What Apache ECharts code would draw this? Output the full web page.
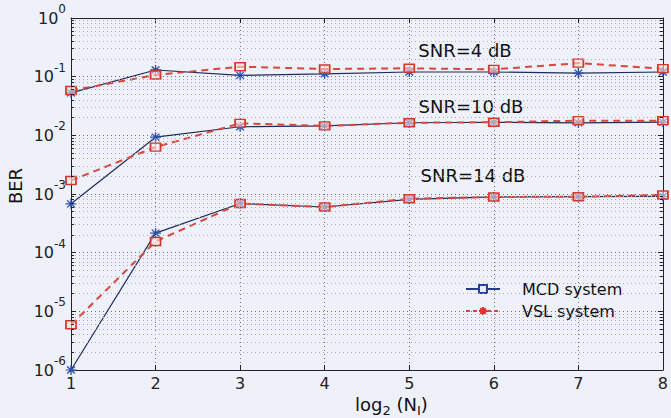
<!DOCTYPE html>
<html>
<head>
<meta charset="utf-8">
<script src="https://cdn.jsdelivr.net/npm/echarts@6/dist/echarts.min.js"></script>
<style>
  html, body { margin: 0; padding: 0; background: #eef0fa; }
  #chart { width: 671px; height: 418px; }
</style>
</head>
<body>
<div id="chart"></div>
<script>
// Number of interleaver bits, log2(N_I)
const log2Ni = [1, 2, 3, 4, 5, 6, 7, 8];

// BER of the MCD system at each SNR
const mcdSnr4  = [0.053, 0.13, 0.105, 0.112, 0.12, 0.12, 0.115, 0.12];
const mcdSnr10 = [6.8e-4, 9.3e-3, 0.014, 0.0145, 0.0164, 0.0167, 0.0163, 0.0168];
const mcdSnr14 = [1e-6, 2.15e-4, 6.9e-4, 6.0e-4, 8.1e-4, 8.9e-4, 9.0e-4, 9.1e-4];

// BER of the VSL system at each SNR
const vslSnr4  = [0.058, 0.107, 0.148, 0.135, 0.139, 0.133, 0.17, 0.137];
const vslSnr10 = [1.7e-3, 6.3e-3, 0.016, 0.0145, 0.0164, 0.0167, 0.0178, 0.0178];
const vslSnr14 = [5.9e-6, 1.55e-4, 6.9e-4, 6.0e-4, 8.3e-4, 8.9e-4, 9.0e-4, 9.6e-4];

// Decade exponents of the BER axis
const berDecades = [-6, -5, -4, -3, -2, -1, 0];
const minorSteps = [2, 3, 4, 5, 6, 7, 8, 9];

const snrLabels = ['SNR=4 dB', 'SNR=10 dB', 'SNR=14 dB'];
const legendNames = ['MCD system', 'VSL system'];

const FONT = 'DejaVu Sans';
const ASTERISK = 'path://M0,5L10,5M5,0L5,10M1.5,1.5L8.5,8.5M8.5,1.5L1.5,8.5';

const MCD_LINE = '#1f2b5a';
const MCD_MARK = '#2d4db0';
const VSL_LINE = '#d9463c';
const VSL_MARK = '#d3382b';

const pairs = (ys) => log2Ni.map((x, i) => [x, ys[i]]);

// Minor (2..9 per decade) grid lines and inside tick marks of the log axis
const xMin = log2Ni[0], xMax = log2Ni[log2Ni.length - 1];
const minorGrid = [], minorTicks = [];
for (let d = 0; d < berDecades.length - 1; d++) {
  for (const k of minorSteps) {
    const v = k * Math.pow(10, berDecades[d]);
    minorGrid.push([{ coord: [xMin, v] }, { coord: [xMax, v] }]);
    minorTicks.push([{ coord: [xMin, v] }, { coord: [xMin + 0.035, v] }]);
    minorTicks.push([{ coord: [xMax - 0.035, v] }, { coord: [xMax, v] }]);
  }
}

function mcdSeries(ys) {
  return {
    type: 'line', name: legendNames[0], data: pairs(ys), z: 3, clip: false,
    symbol: ASTERISK, symbolSize: [11, 10],
    lineStyle: { color: MCD_LINE, width: 1.2 },
    itemStyle: { color: 'transparent', borderColor: MCD_MARK, borderWidth: 1.3 }
  };
}
function vslSeries(ys) {
  return {
    type: 'line', name: legendNames[1], data: pairs(ys), z: 4, clip: false,
    symbol: 'rect', symbolSize: [10, 8],
    lineStyle: { color: VSL_LINE, width: 2, type: [7, 5] },
    itemStyle: { color: 'rgba(255,228,222,0.55)', borderColor: VSL_MARK, borderWidth: 1.6 }
  };
}

const supLabel = (v) => {
  const e = Math.round(Math.log10(v));
  return '{b|10}{s|' + (e < 0 ? '-' + (-e) : e) + '}';
};

const axisLineStyle = { color: '#222', width: 1 };

const option = {
  backgroundColor: '#eef0fa',
  animation: false,
  textStyle: { fontFamily: FONT },
  grid: { left: 71, right: 1, top: 18, bottom: 48 },
  legend: {
    data: legendNames,
    orient: 'vertical',
    left: 465, top: 280,
    itemWidth: 34, itemHeight: 10, itemGap: 4,
    padding: 0,
    textStyle: { fontFamily: FONT, fontSize: 16, color: '#111', lineHeight: 18, padding: [0, 0, 0, 17] }
  },
  xAxis: [
    {
      type: 'value', min: 1, max: 8, interval: 1, position: 'bottom',
      axisLine: { show: true, onZero: false, lineStyle: axisLineStyle },
      axisTick: { inside: true, length: 5, lineStyle: axisLineStyle },
      axisLabel: { fontFamily: FONT, fontSize: 16, color: '#222', margin: 5 },
      splitLine: { show: true, lineStyle: { color: '#6f7282', type: [1, 3] } }
    },
    {
      type: 'value', min: 1, max: 8, interval: 1, position: 'top',
      axisLine: { show: true, onZero: false, lineStyle: axisLineStyle },
      axisTick: { inside: true, length: 5, lineStyle: axisLineStyle },
      axisLabel: { show: false },
      splitLine: { show: false }
    }
  ],
  yAxis: [
    {
      type: 'log', logBase: 10, min: 1e-6, max: 1, splitNumber: 6, position: 'left',
      axisLine: { show: true, onZero: false, lineStyle: axisLineStyle },
      axisTick: { inside: true, length: 5, lineStyle: axisLineStyle },
      axisLabel: {
        margin: 5, formatter: supLabel,
        rich: {
          b: { fontFamily: FONT, fontSize: 16, color: '#222', lineHeight: 30 },
          s: { fontFamily: FONT, fontSize: 12, color: '#222', lineHeight: 13, verticalAlign: 'top' }
        }
      },
      splitLine: { show: true, lineStyle: { color: '#6f7282', type: [1, 3] } }
    },
    {
      type: 'log', logBase: 10, min: 1e-6, max: 1, splitNumber: 6, position: 'right',
      axisLine: { show: true, onZero: false, lineStyle: axisLineStyle },
      axisTick: { inside: true, length: 5, lineStyle: axisLineStyle },
      axisLabel: { show: false },
      splitLine: { show: false }
    }
  ],
  series: [
    // legend keys
    {
      type: 'line', name: legendNames[0], data: [],
      symbol: 'rect', symbolSize: [9, 7],
      lineStyle: { color: '#263a85', width: 2 },
      itemStyle: { color: '#e6eaff', borderColor: '#2840a0', borderWidth: 1.5 }
    },
    {
      type: 'line', name: legendNames[1], data: [],
      symbol: ASTERISK, symbolSize: [11, 10],
      lineStyle: { color: VSL_LINE, width: 2, type: [4, 3] },
      itemStyle: { color: 'transparent', borderColor: '#e0302a', borderWidth: 1.8 }
    },
    // minor grid and ticks of the BER axis
    {
      type: 'line', name: 'minor-grid', data: [], z: 1,
      markLine: {
        silent: true, animation: false, symbol: ['none', 'none'],
        label: { show: false }, emphasis: { disabled: true },
        lineStyle: { color: '#a7aabb', type: [1, 3], width: 1 },
        data: minorGrid
      }
    },
    {
      type: 'line', name: 'minor-ticks', data: [], z: 2,
      markLine: {
        silent: true, animation: false, symbol: ['none', 'none'],
        label: { show: false }, emphasis: { disabled: true },
        lineStyle: { color: '#222', type: 'solid', width: 1 },
        data: minorTicks
      }
    },
    mcdSeries(mcdSnr4), vslSeries(vslSnr4),
    mcdSeries(mcdSnr10), vslSeries(vslSnr10),
    mcdSeries(mcdSnr14), vslSeries(vslSnr14)
  ],
  graphic: [
    { type: 'text', x: 465, y: 50, style: { text: snrLabels[0], font: '18px "DejaVu Sans"', fill: '#111', align: 'center', verticalAlign: 'middle' } },
    { type: 'text', x: 471, y: 106, style: { text: snrLabels[1], font: '18px "DejaVu Sans"', fill: '#111', align: 'center', verticalAlign: 'middle' } },
    { type: 'text', x: 473, y: 175, style: { text: snrLabels[2], font: '18px "DejaVu Sans"', fill: '#111', align: 'center', verticalAlign: 'middle' } },
    { type: 'text', x: 15, y: 186, rotation: Math.PI / 2,
      style: { text: 'BER', font: '18px "DejaVu Sans"', fill: '#111', align: 'center', verticalAlign: 'middle' } },
    { type: 'text', x: 355, y: 404,
      style: {
        text: '{n|log}{u|2}{n| (N}{u|I}{n|)}', align: 'left', verticalAlign: 'middle',
        rich: {
          n: { fontFamily: FONT, fontSize: 18, fill: '#111', lineHeight: 26 },
          u: { fontFamily: FONT, fontSize: 13, fill: '#111', lineHeight: 14, verticalAlign: 'bottom' }
        }
      }
    }
  ]
};

const chart = echarts.init(document.getElementById('chart'), null, { renderer: 'svg' });
chart.setOption(option);
</script>
</body>
</html>
